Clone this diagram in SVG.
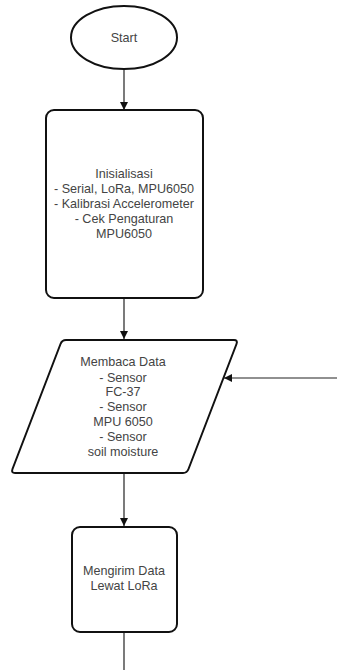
<svg xmlns="http://www.w3.org/2000/svg" width="337" height="670" viewBox="0 0 337 670">
  <defs>
    <style>
      .shape { fill: #ffffff; stroke: #111111; stroke-width: 2; stroke-linejoin: round; }
      .edge { fill: none; stroke: #222222; stroke-width: 1.2; }
      .label { font-family: "Liberation Sans", Arial, sans-serif; font-size: 12.6px; fill: #444444; text-anchor: middle; }
    </style>
    <marker id="arrow" viewBox="0 0 10 10" refX="10" refY="5" markerWidth="8" markerHeight="8" markerUnits="userSpaceOnUse" orient="auto">
      <path d="M0,0 L10,5 L0,10 Z" fill="#111111"/>
    </marker>
  </defs>
  <rect width="337" height="670" fill="#ffffff"/>

  <!-- connectors -->
  <g id="connectors">
    <line class="edge" x1="124" y1="69" x2="124" y2="110" marker-end="url(#arrow)"/>
    <line class="edge" x1="124" y1="298" x2="124" y2="339" marker-end="url(#arrow)"/>
    <line class="edge" x1="337" y1="378" x2="224" y2="378" marker-end="url(#arrow)"/>
    <line class="edge" x1="124" y1="473" x2="124" y2="526" marker-end="url(#arrow)"/>
    <line class="edge" x1="124" y1="632" x2="124" y2="670"/>
  </g>

  <!-- start terminator -->
  <g id="start">
    <ellipse class="shape" cx="124" cy="37.5" rx="53" ry="31.5"/>
    <text class="label" x="124" y="41.5">Start</text>
  </g>

  <!-- initialisation step -->
  <g id="init">
    <rect class="shape" x="46" y="110" width="157" height="188" rx="8" ry="8"/>
    <text class="label" x="124" y="178">Inisialisasi</text>
    <text class="label" x="124" y="193">- Serial, LoRa, MPU6050</text>
    <text class="label" x="124" y="208">- Kalibrasi Accelerometer</text>
    <text class="label" x="124" y="223">- Cek Pengaturan</text>
    <text class="label" x="124" y="238">MPU6050</text>
  </g>

  <!-- sensor read (input/output) -->
  <g id="read">
    <path class="shape" d="M66,340 L234,340 Q238,340 236.5,344 L188.5,469 Q187,473 183,473 L15,473 Q11,473 12.5,469 L60.5,344 Q62,340 66,340 Z"/>
    <text class="label" x="123" y="366">Membaca Data</text>
    <text class="label" x="123" y="382">- Sensor</text>
    <text class="label" x="123" y="396">FC-37</text>
    <text class="label" x="123" y="411">- Sensor</text>
    <text class="label" x="123" y="426">MPU 6050</text>
    <text class="label" x="123" y="441">- Sensor</text>
    <text class="label" x="123" y="456">soil moisture</text>
  </g>

  <!-- send step -->
  <g id="send">
    <rect class="shape" x="72" y="527" width="105" height="105" rx="8" ry="8"/>
    <text class="label" x="124" y="575">Mengirim Data</text>
    <text class="label" x="124" y="590">Lewat LoRa</text>
  </g>
</svg>
